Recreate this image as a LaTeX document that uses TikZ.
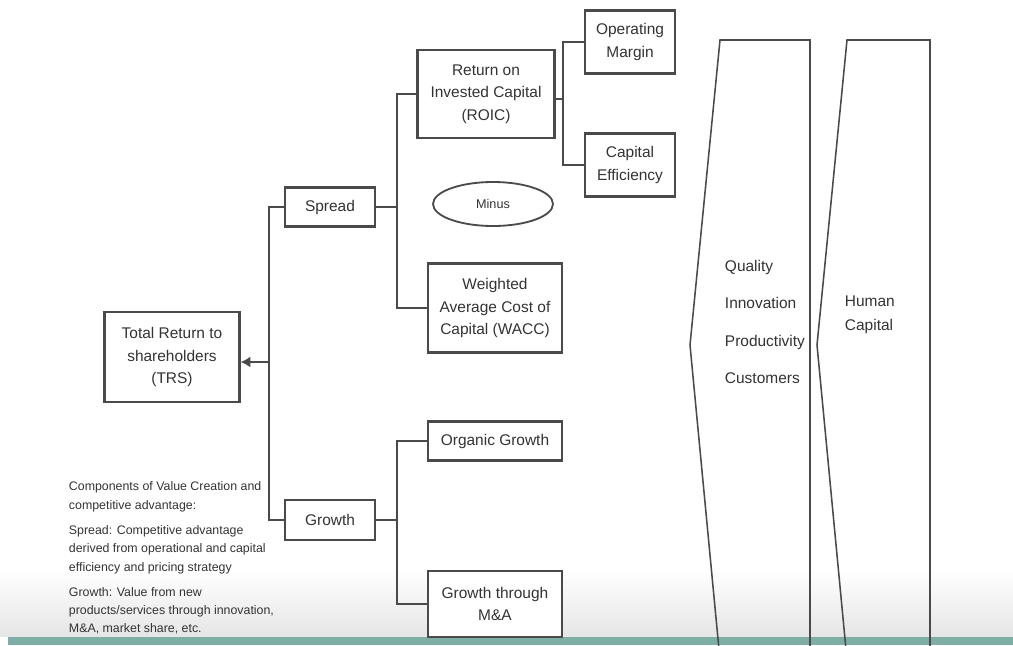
\documentclass[tikz,border=0pt]{standalone}
\usepackage{fontspec}
\setmainfont{Liberation Sans}
\usetikzlibrary{shapes.geometric,arrows.meta}
\newlength\px
\setlength\px{0.025cm}
\definecolor{linegray}{HTML}{4A4A4A}
\definecolor{textgray}{HTML}{333333}
\definecolor{barteal}{HTML}{7FAEA6}

\begin{document}
\begin{tikzpicture}[x=0.025cm,y=-0.025cm,
  box/.style={draw=linegray,line width=1.6pt,fill=white,align=center,
    font=\fontsize{11}{16}\selectfont,text=textgray,inner sep=2pt},
  link/.style={draw=linegray,line width=1.5pt},
  chev/.style={draw=linegray,line width=1.1pt}]

\useasboundingbox (0,0) rectangle (1013,645);
\fill[white] (0,0) rectangle (1013,645);
\shade[top color=white,bottom color=black!10] (0,570) rectangle (1013,636);
\fill[barteal] (8,637) rectangle (1013,645);

% chevrons
\draw[chev] (720,40) -- (810,40) -- (810,660) -- (720,660) -- (690,345) -- cycle;
\draw[chev] (847,40) -- (930,40) -- (930,660) -- (847,660) -- (817,345) -- cycle;

\node[anchor=west,align=left,text=textgray,font=\fontsize{11}{26.6}\selectfont] (drivers) at (720,322)
  {Quality\\Innovation\\Productivity\\Customers};
\node[anchor=west,align=left,text=textgray,font=\fontsize{11}{17}\selectfont] (human) at (840,315)
  {Human\\Capital};

% tree boxes
\node[box,minimum width=135\px,minimum height=90\px] (trs) at (172,357) {Total Return to\\shareholders\\(TRS)};
\node[box,minimum width=90\px,minimum height=39\px] (spread) at (330,207) {Spread};
\node[box,minimum width=90\px,minimum height=40\px] (growth) at (330,520) {Growth};

\node[box,minimum width=137\px,minimum height=88\px] (roic) at (486,94) {Return on\\Invested Capital\\(ROIC)};
\node[box,ellipse,line width=1.3pt,minimum width=120\px,minimum height=44\px,
  font=\fontsize{9}{11}\selectfont] (minus) at (493,204) {Minus};
\node[box,minimum width=134\px,minimum height=89\px] (wacc) at (495,308) {Weighted\\Average Cost of\\Capital (WACC)};

\node[box,minimum width=90\px,minimum height=63\px] (om) at (630,42) {Operating\\Margin};
\node[box,minimum width=90\px,minimum height=63\px] (ce) at (630,165) {Capital\\Efficiency};

\node[box,minimum width=134\px,minimum height=39\px] (og) at (495,441) {Organic Growth};
\node[box,minimum width=134\px,minimum height=66\px] (gma) at (495,604) {Growth through\\M\&A};

% junctions
\coordinate (tj) at (269,362);
\coordinate (sj) at (397,207);
\coordinate (rj) at (563,99);
\coordinate (gj) at (397,520);

% connectors
\draw[link] (spread.west) -| (tj);
\draw[link] (growth.west) -| (tj);
\draw[link,-{Latex[length=7pt,width=8pt]}] (tj) -- (trs.east |- tj);

\draw[link] (spread.east) -- (sj);
\draw[link] (roic.west) -| (sj);
\draw[link] (wacc.west) -| (sj);

\draw[link] (roic.east |- rj) -- (rj);
\draw[link] (om.west) -| (rj);
\draw[link] (ce.west) -| (rj);

\draw[link] (growth.east) -- (gj);
\draw[link] (og.west) -| (gj);
\draw[link] (gma.west) -| (gj);

% notes
\node[anchor=north west,align=left,text=textgray,font=\fontsize{8.8}{13}\selectfont] (notes) at (64,477)
  {Components of Value Creation and\\competitive advantage:\\[5pt]
   Spread: Competitive advantage\\derived from operational and capital\\efficiency and pricing strategy\\[5pt]
   Growth: Value from new\\products/services through innovation,\\M\&A, market share, etc.};
\end{tikzpicture}
\end{document}
